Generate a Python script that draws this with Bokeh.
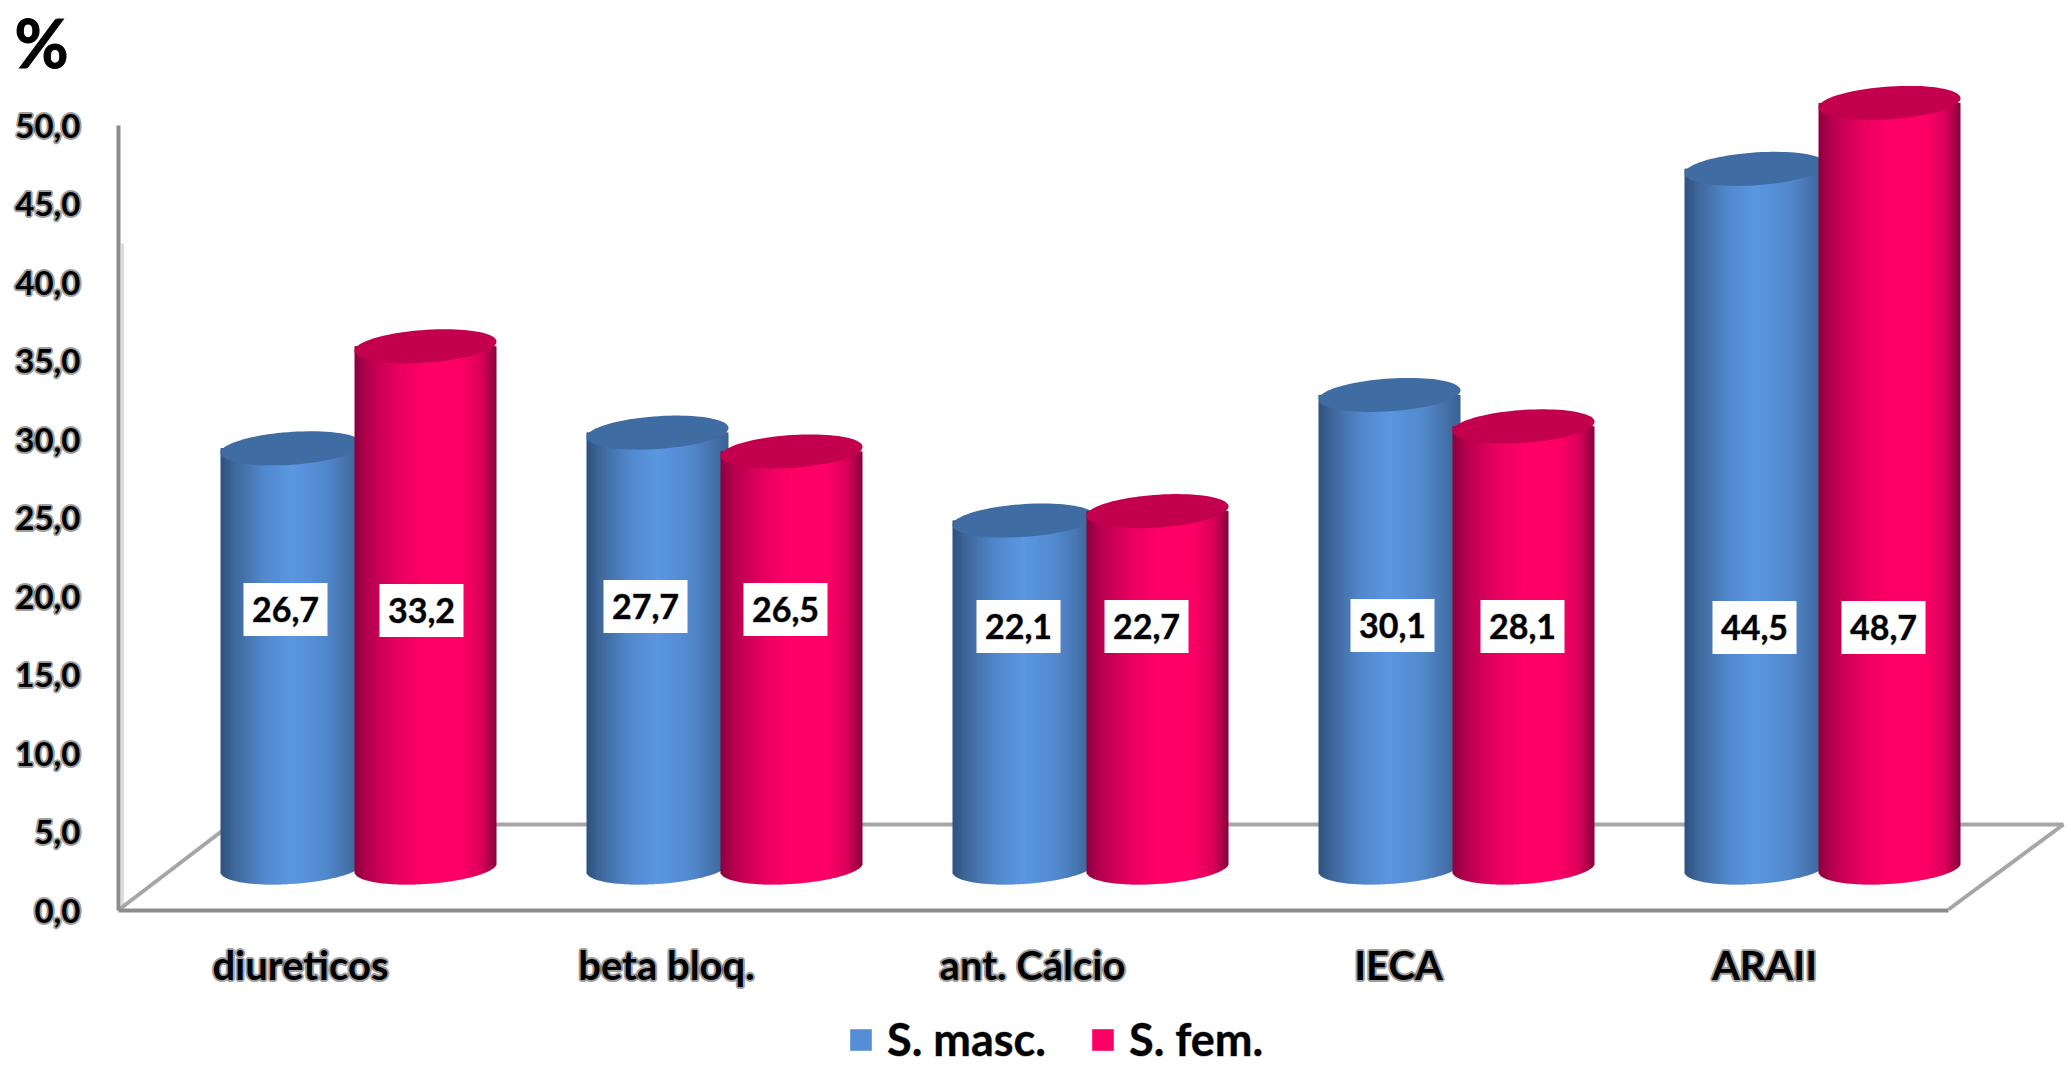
import numpy as np
from bokeh.embed import file_html
from bokeh.resources import INLINE
from bokeh.plotting import figure
from bokeh.models import Range1d, Legend, LegendItem, FixedTicker, ColumnDataSource
from bokeh.core.properties import value

categories = ["diureticos", "beta bloq.", "ant. Cálcio", "IECA", "ARAII"]
masc = [26.7, 27.7, 22.1, 30.1, 44.5]
fem = [33.2, 26.5, 22.7, 28.1, 48.7]
masc_text = ["26,7", "27,7", "22,1", "30,1", "44,5"]
fem_text = ["33,2", "26,5", "22,7", "28,1", "48,7"]
y_ticks = [0, 5, 10, 15, 20, 25, 30, 35, 40, 45, 50]
y_tick_labels = ["0,0", "5,0", "10,0", "15,0", "20,0", "25,0", "30,0", "35,0", "40,0", "45,0", "50,0"]

# layout (reference pixels; Bokeh's page has no body margin)
W, H = 2071, 1066
AXIS_X, ZERO = 118, 910
PITCH, X0 = 366.0, 300.0
PX_PER_UNIT = 15.7
FONT = "Lato"
SOFT = "rgba(0,0,0,0.4)"

def xd(px):
    return (np.asarray(px, dtype=float) - X0) / PITCH

def yd(px):
    return (ZERO - np.asarray(px, dtype=float)) / PX_PER_UNIT

BASE = yd(867)          # 3-D floor offset of the cylinder base centre
RX = 71.0
RY = 16.4 / PX_PER_UNIT
TILT = 4.6 / PX_PER_UNIT
OFF_M, OFF_F = -9 / PITCH, 125 / PITCH

stops = [0, .1, .3, .5, .75, .9, 1]
BLUE = [(0x2f, 0x53, 0x80), (0x41, 0x69, 0x9c), (0x52, 0x88, 0xcc), (0x5b, 0x97, 0xe2),
        (0x52, 0x88, 0xcc), (0x45, 0x72, 0xaa), (0x3a, 0x62, 0x94)]
RED = [(0x8e, 0x00, 0x40), (0xb8, 0x00, 0x50), (0xe6, 0x00, 0x60), (0xff, 0x00, 0x66),
       (0xff, 0x00, 0x66), (0xd8, 0x00, 0x5a), (0x8a, 0x00, 0x3e)]
BLUE_TOP, RED_TOP = "#3f6ca3", "#c2004e"
BLUE_KEY, RED_KEY = "#558ed5", "#ff0066"

# The frame fills the canvas; both axes are pinned inside it.
p = figure(width=W, height=H, output_backend="svg", toolbar_location=None,
           x_range=Range1d(float(xd(0)), float(xd(W))),
           y_range=Range1d(float(yd(H)), float(yd(0))),
           min_border_left=0, min_border_right=0, min_border_top=0, min_border_bottom=0,
           outline_line_color=None, background_fill_color="white")
p.grid.visible = False

# floor and wall lines
GRAY = "#a6a6a6"
p.segment(x0=[float(xd(AXIS_X + 4))], y0=[0], x1=[float(xd(AXIS_X + 4))], y1=[float(yd(243))], line_color="#dcdcdc", line_width=3)
p.line(xd([230, 2063]), yd([824, 824]), line_color=GRAY, line_width=4)
p.line(xd([120, 230]), yd([908, 824]), line_color=GRAY, line_width=4)
p.line(xd([1948, 2063]), yd([909, 824]), line_color=GRAY, line_width=4)

LABEL_STYLE = dict(major_label_text_font=FONT, major_label_text_font_style="bold",
                   major_label_text_color="black", major_label_text_outline_color=SOFT)

# axes
ax = p.yaxis[0]
ax.fixed_location = float(xd(AXIS_X))
ax.ticker = FixedTicker(ticks=y_ticks)
ax.major_label_overrides = dict(zip(y_ticks, y_tick_labels))
ax.bounds = (0, 50)
ax.axis_line_color = "#8c8c8c"
ax.axis_line_width = 4
ax.major_tick_line_color = None
ax.minor_tick_line_color = None
ax.major_label_standoff = 32
ax.major_label_text_font_size = "33px"
ax.update(**LABEL_STYLE)

bx = p.xaxis[0]
bx.fixed_location = 0
bx.ticker = FixedTicker(ticks=list(range(len(categories))))
bx.major_label_overrides = dict(enumerate(categories))
bx.bounds = (float(xd(AXIS_X)), float(xd(1948)))
bx.axis_line_color = "#8c8c8c"
bx.axis_line_width = 4
bx.major_tick_line_color = None
bx.minor_tick_line_color = None
bx.major_label_standoff = 24
bx.major_label_text_font_size = "40px"
bx.update(**LABEL_STYLE)


def cylinder(xc, v, ramp, top_color):
    """One 3-D column: shaded side from vertical strips, tilted elliptic lid."""
    n = int(2 * RX)
    t = np.arange(n) / (n - 1)
    edges = np.arange(n + 1) / n
    u = 2 * edges[:-1] - 1
    um = 2 * (edges[:-1] + .5 / n) - 1
    low = BASE - np.sqrt(np.clip(1 - um ** 2, 0, 1)) * RY + um * TILT
    rgb = np.array([np.interp(t, stops, [c[k] for c in ramp]) for k in range(3)]).T.astype(int)
    cols = ["#%02x%02x%02x" % tuple(c) for c in rgb]
    dx = RX / PITCH
    left = xc + dx * u
    right = np.minimum(left + 3 * dx / n, xc + dx)
    p.quad(left=left, right=right, bottom=low, top=np.full(n, BASE + v),
           fill_color=cols, line_color=None)
    a = np.linspace(0, 2 * np.pi, 90)
    p.patch(xc + dx * np.cos(a), BASE + v + RY * np.sin(a) + TILT * np.cos(a),
            fill_color=top_color, line_color=None)


for i in range(len(categories)):
    cylinder(i + OFF_M, masc[i], BLUE, BLUE_TOP)
    cylinder(i + OFF_F, fem[i], RED, RED_TOP)

# value labels: white boxes near mid-height
label_x_px = [285, 421, 645, 785, 1018, 1146, 1392, 1522, 1754, 1883]
label_y_px = [609, 610, 606, 609, 626, 626, 625, 626, 627, 627]
label_text = [s for pair in zip(masc_text, fem_text) for s in pair]
src = ColumnDataSource(dict(x=xd(label_x_px), y=yd(label_y_px), t=label_text))
p.rect("x", "y", width=84, height=53, width_units="screen", height_units="screen",
       source=src, fill_color="white", line_color=None)
p.text("x", "y", text="t", source=src, text_align="center", text_baseline="middle",
       text_font=value(FONT), text_font_style="bold", text_font_size="34px", text_color="black",
       text_outline_color=SOFT)

# percent sign
p.text(x=[float(xd(14))], y=[float(yd(42))], text=["%"], text_align="left", text_baseline="middle",
       text_font=value(FONT), text_font_style="bold", text_font_size="66px", text_color="black",
       text_outline_color="black")

# legend keys: single off-canvas quads give the swatches their colours
r_m = p.quad(left=[-50], right=[-49], top=[-50], bottom=[-51], fill_color=BLUE_KEY, line_color=None)
r_f = p.quad(left=[-50], right=[-49], top=[-50], bottom=[-51], fill_color=RED_KEY, line_color=None)
leg = Legend(items=[LegendItem(label="S. masc.", renderers=[r_m]), LegendItem(label="S. fem.", renderers=[r_f])],
             orientation="horizontal", location=(847, 0),
             glyph_width=27, glyph_height=27, label_text_font=FONT, label_text_font_style="bold",
             label_text_font_size="45px", label_text_color="black", label_text_outline_color=SOFT,
             border_line_color=None, background_fill_alpha=0, padding=0, margin=0, spacing=43, label_standoff=13)
p.add_layout(leg, "center")

open("out.html", "w").write(file_html(p, INLINE))
